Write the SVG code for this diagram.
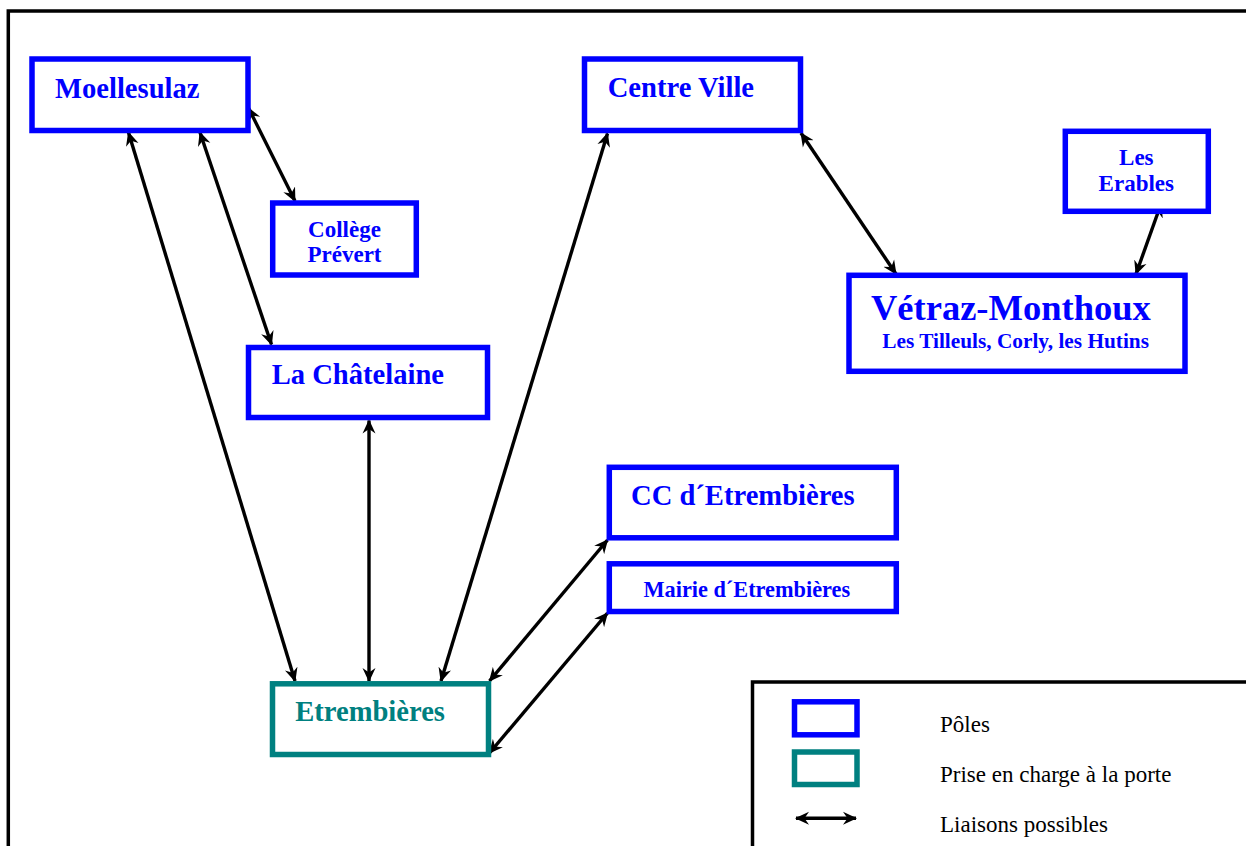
<svg xmlns="http://www.w3.org/2000/svg" width="1246" height="846" viewBox="0 0 1246 846">
<style>
.frame{fill:none;stroke:#000;stroke-width:3.5}
.pole{fill:#fff;stroke:#0000ff;stroke-width:5.5}
.porte{fill:#fff;stroke:#008080;stroke-width:5.5}
.t{font-family:"Liberation Serif","Times New Roman",serif;font-weight:bold;fill:#0000ff}
.big{font-size:28.6px}
.sm{font-size:23px}
.teal{fill:#008080}
.leg{font-family:"Liberation Serif","Times New Roman",serif;font-size:23px;fill:#000}
.link{stroke:#000;stroke-width:3.4;fill:none;marker-start:url(#ah);marker-end:url(#ah)}
</style>
<defs>
<marker id="ah" viewBox="0 0 14 14" refX="13" refY="7" markerWidth="14" markerHeight="14" markerUnits="userSpaceOnUse" orient="auto-start-reverse">
<path d="M0,0.5 L14,7 L0,13.5 L4.5,7 z" fill="#000"/>
</marker>
</defs>
<rect width="1246" height="846" fill="#fff"/>
<path class="frame" d="M8.3,846 V11 H1246"/>

<g id="connectors">
<line class="link" x1="248.5" y1="108" x2="295" y2="201"/>
<line class="link" x1="128.5" y1="132.5" x2="295" y2="681"/>
<line class="link" x1="200" y1="132.5" x2="271.5" y2="344.5"/>
<line class="link" x1="369" y1="420.5" x2="369" y2="681"/>
<line class="link" x1="607.5" y1="133.5" x2="441" y2="681"/>
<line class="link" x1="801" y1="133" x2="896" y2="274"/>
<line class="link" x1="1161" y1="204" x2="1136" y2="274"/>
<line class="link" x1="607.5" y1="540" x2="489.5" y2="681"/>
<line class="link" x1="607.5" y1="613" x2="489.5" y2="753"/>
</g>

<g id="moellesulaz">
<rect class="pole" x="32" y="59" width="216" height="71.5"/>
<text class="t big" x="55" y="97.5">Moellesulaz</text>
</g>
<g id="college-prevert">
<rect class="pole" x="272.7" y="203" width="143.6" height="72"/>
<text class="t sm" x="344.5" y="236.7" text-anchor="middle">Collège</text>
<text class="t sm" x="344.5" y="261.7" text-anchor="middle">Prévert</text>
</g>
<g id="la-chatelaine">
<rect class="pole" x="248.5" y="347.5" width="239" height="70"/>
<text class="t big" x="271.7" y="384.3">La Châtelaine</text>
</g>
<g id="centre-ville">
<rect class="pole" x="584.5" y="59" width="216" height="71.5"/>
<text class="t big" x="607.7" y="97.3">Centre Ville</text>
</g>
<g id="les-erables">
<rect class="pole" x="1065.3" y="131.3" width="143" height="80"/>
<text class="t sm" x="1136.3" y="165" text-anchor="middle">Les</text>
<text class="t sm" x="1136.3" y="191" text-anchor="middle">Erables</text>
</g>
<g id="vetraz-monthoux">
<rect class="pole" x="849" y="275.3" width="336" height="96"/>
<text class="t" style="font-size:36.5px" x="871" y="320">Vétraz-Monthoux</text>
<text class="t" style="font-size:21.3px" x="882.3" y="347.7">Les Tilleuls, Corly, les Hutins</text>
</g>
<g id="cc-etrembieres">
<rect class="pole" x="609.3" y="467.3" width="287" height="70.5"/>
<text class="t big" x="631" y="505">CC d´Etrembières</text>
</g>
<g id="mairie-etrembieres">
<rect class="pole" x="609.3" y="563.8" width="287" height="47.7"/>
<text class="t" style="font-size:22.3px" x="643.5" y="596.7">Mairie d´Etrembières</text>
</g>
<g id="etrembieres">
<rect class="porte" x="272.5" y="683.8" width="216" height="70.7"/>
<text class="t big teal" x="295.2" y="720.7">Etrembières</text>
</g>

<g id="legend">
<path class="frame" d="M752.5,846 V682 H1246"/>
<rect class="pole" x="794.5" y="701.8" width="62.5" height="33"/>
<rect class="porte" x="794.5" y="752" width="62.5" height="32.5"/>
<line class="link" x1="796" y1="818.3" x2="856" y2="818.3"/>
<text class="leg" x="940" y="732.3">Pôles</text>
<text class="leg" x="940" y="781.7">Prise en charge à la porte</text>
<text class="leg" x="940" y="831.7">Liaisons possibles</text>
</g>
</svg>
